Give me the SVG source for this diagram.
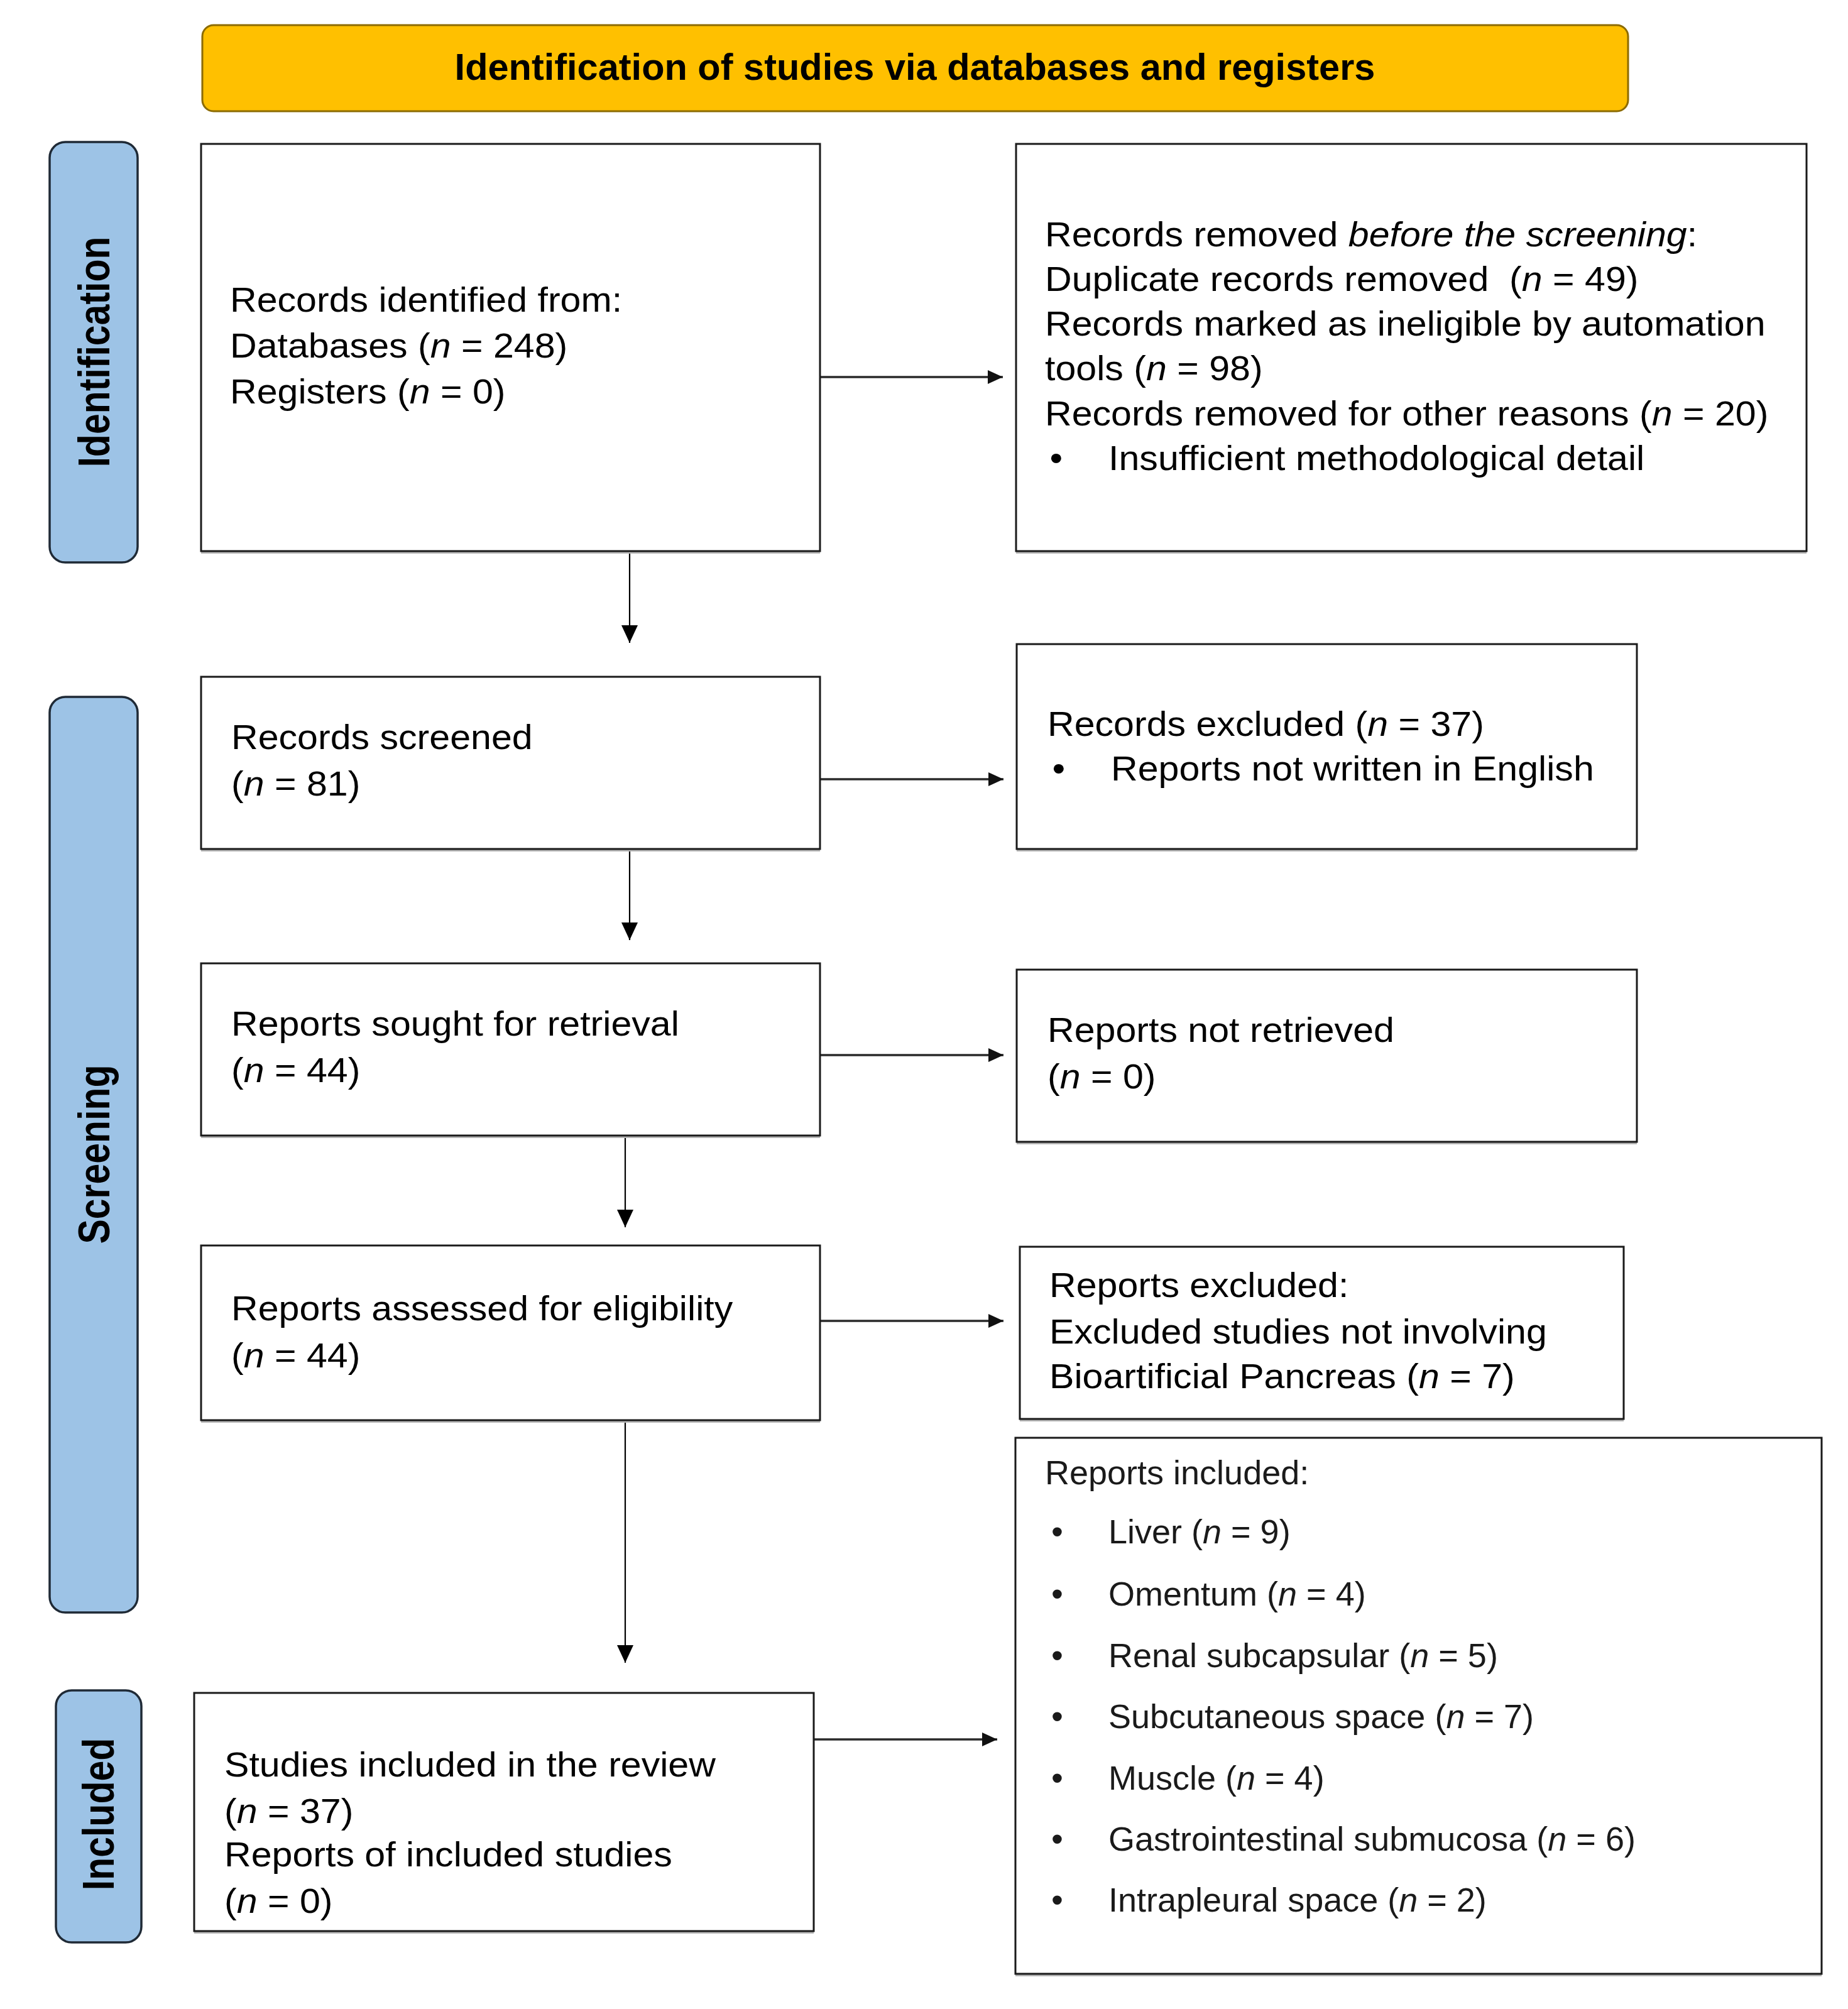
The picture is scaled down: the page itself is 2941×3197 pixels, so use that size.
<svg xmlns="http://www.w3.org/2000/svg" width="2941" height="3197" viewBox="0 0 2941 3197">
<style>
.t{font-family:"Liberation Sans",Arial,sans-serif;font-size:55px;fill:#000}
.l{font-family:"Liberation Sans",Arial,sans-serif;font-size:54px;fill:#1a1a1a}
.lab{font-family:"Liberation Sans",Arial,sans-serif;font-size:59px;font-weight:bold;fill:#000}
.hd{font-family:"Liberation Sans",Arial,sans-serif;font-size:59.5px;font-weight:bold;fill:#000}
.box{fill:#fff;stroke:#1a1a1a;stroke-width:3}
.sh{fill:#b5b5b5}
.bar{fill:#9dc3e6;stroke:#1f2a36;stroke-width:3.5}
.i{font-style:italic}
.v{stroke:#000;stroke-width:2.2;fill:none}
.h{stroke:#2a2a2a;stroke-width:3.5;fill:none}
</style>
<defs>
<marker id="ah" markerUnits="userSpaceOnUse" markerWidth="28" markerHeight="26" viewBox="0 0 28 26" refX="28" refY="13" orient="auto">
<path d="M0,0 L28,13 L0,26 z" fill="#000"/>
</marker>
<marker id="ahs" markerUnits="userSpaceOnUse" markerWidth="24" markerHeight="22" viewBox="0 0 24 22" refX="24" refY="11" orient="auto">
<path d="M0,0 L24,11 L0,22 z" fill="#111"/>
</marker>
</defs>
<rect width="2941" height="3197" fill="#fff"/>

<g id="header">
<rect x="322" y="40" width="2269" height="137" rx="18" fill="#ffc000" stroke="#8c6b00" stroke-width="3"/>
<text class="hd" x="1456" y="127" text-anchor="middle">Identification of studies via databases and registers</text>
</g>

<g id="label-identification">
<rect class="bar" x="79" y="226" width="140" height="669" rx="25"/>
<text class="lab" text-anchor="middle" transform="translate(149,560) rotate(-90) scale(1,1.2)" y="21">Identification</text>
</g>
<g id="label-screening">
<rect class="bar" x="79" y="1109" width="140" height="1457" rx="25"/>
<text class="lab" text-anchor="middle" transform="translate(149,1837) rotate(-90) scale(1,1.2)" y="21">Screening</text>
</g>
<g id="label-included">
<rect class="bar" x="89" y="2690" width="136" height="401" rx="25"/>
<text class="lab" text-anchor="middle" transform="translate(156,2887) rotate(-90) scale(1,1.2)" y="21">Included</text>
</g>

<g id="connectors">
<line class="v" x1="1002" y1="877" x2="1002" y2="1023" marker-end="url(#ah)"/>
<line class="v" x1="1002" y1="1351" x2="1002" y2="1496" marker-end="url(#ah)"/>
<line class="v" x1="995" y1="1807" x2="995" y2="1953" marker-end="url(#ah)"/>
<line class="v" x1="995" y1="2260" x2="995" y2="2646" marker-end="url(#ah)"/>
<line class="h" x1="1305" y1="600" x2="1596" y2="600" marker-end="url(#ahs)"/>
<line class="h" x1="1305" y1="1240" x2="1597" y2="1240" marker-end="url(#ahs)"/>
<line class="h" x1="1305" y1="1679" x2="1597" y2="1679" marker-end="url(#ahs)"/>
<line class="h" x1="1305" y1="2102" x2="1597" y2="2102" marker-end="url(#ahs)"/>
<line class="h" x1="1295" y1="2768" x2="1587" y2="2768" marker-end="url(#ahs)"/>
</g>

<g id="node-identified">
<rect class="sh" x="320" y="233" width="985" height="648"/>
<rect class="box" x="320" y="229" width="985" height="648"/>
<g transform="translate(366,0) scale(1.075,1)"><text class="t">
<tspan x="0" y="496">Records identified from:</tspan>
<tspan x="0" y="569">Databases (<tspan class="i">n</tspan> = 248)</tspan>
<tspan x="0" y="642">Registers (<tspan class="i">n</tspan> = 0)</tspan>
</text></g>
</g>

<g id="node-removed">
<rect class="sh" x="1617" y="233" width="1258" height="648"/>
<rect class="box" x="1617" y="229" width="1258" height="648"/>
<g transform="translate(1663,0) scale(1.075,1)"><text class="t">
<tspan x="0" y="392">Records removed <tspan class="i">before the screening</tspan>:</tspan>
<tspan x="0" y="463">Duplicate records removed&#160; (<tspan class="i">n</tspan> = 49)</tspan>
<tspan x="0" y="534">Records marked as ineligible by automation</tspan>
<tspan x="0" y="605">tools (<tspan class="i">n</tspan> = 98)</tspan>
<tspan x="0" y="677">Records removed for other reasons (<tspan class="i">n</tspan> = 20)</tspan>
<tspan x="7" y="748">•</tspan><tspan x="94" y="748">Insufficient methodological detail</tspan>
</text></g>
</g>

<g id="node-screened">
<rect class="sh" x="320" y="1081" width="985" height="274"/>
<rect class="box" x="320" y="1077" width="985" height="274"/>
<g transform="translate(368,0) scale(1.075,1)"><text class="t">
<tspan x="0" y="1192">Records screened</tspan>
<tspan x="0" y="1266">(<tspan class="i">n</tspan> = 81)</tspan>
</text></g>
</g>

<g id="node-excluded">
<rect class="sh" x="1618" y="1029" width="987" height="326"/>
<rect class="box" x="1618" y="1025" width="987" height="326"/>
<g transform="translate(1667,0) scale(1.075,1)"><text class="t">
<tspan x="0" y="1171">Records excluded (<tspan class="i">n</tspan> = 37)</tspan>
<tspan x="7" y="1242">•</tspan><tspan x="94" y="1242">Reports not written in English</tspan>
</text></g>
</g>

<g id="node-sought">
<rect class="sh" x="320" y="1537" width="985" height="274"/>
<rect class="box" x="320" y="1533" width="985" height="274"/>
<g transform="translate(368,0) scale(1.075,1)"><text class="t">
<tspan x="0" y="1648">Reports sought for retrieval</tspan>
<tspan x="0" y="1722">(<tspan class="i">n</tspan> = 44)</tspan>
</text></g>
</g>

<g id="node-not-retrieved">
<rect class="sh" x="1618" y="1547" width="987" height="274"/>
<rect class="box" x="1618" y="1543" width="987" height="274"/>
<g transform="translate(1667,0) scale(1.075,1)"><text class="t">
<tspan x="0" y="1658">Reports not retrieved</tspan>
<tspan x="0" y="1732">(<tspan class="i">n</tspan> = 0)</tspan>
</text></g>
</g>

<g id="node-assessed">
<rect class="sh" x="320" y="1986" width="985" height="278"/>
<rect class="box" x="320" y="1982" width="985" height="278"/>
<g transform="translate(368,0) scale(1.075,1)"><text class="t">
<tspan x="0" y="2101">Reports assessed for eligibility</tspan>
<tspan x="0" y="2176">(<tspan class="i">n</tspan> = 44)</tspan>
</text></g>
</g>

<g id="node-reports-excluded">
<rect class="sh" x="1623" y="1988" width="961" height="274"/>
<rect class="box" x="1623" y="1984" width="961" height="274"/>
<g transform="translate(1670,0) scale(1.075,1)"><text class="t">
<tspan x="0" y="2064">Reports excluded:</tspan>
<tspan x="0" y="2138">Excluded studies not involving</tspan>
<tspan x="0" y="2209">Bioartificial Pancreas (<tspan class="i">n</tspan> = 7)</tspan>
</text></g>
</g>

<g id="node-included">
<rect class="sh" x="309" y="2698" width="986" height="379"/>
<rect class="box" x="309" y="2694" width="986" height="379"/>
<g transform="translate(357,0) scale(1.075,1)"><text class="t">
<tspan x="0" y="2827">Studies included in the review</tspan>
<tspan x="0" y="2901">(<tspan class="i">n</tspan> = 37)</tspan>
<tspan x="0" y="2970">Reports of included studies</tspan>
<tspan x="0" y="3044">(<tspan class="i">n</tspan> = 0)</tspan>
</text></g>
</g>

<g id="node-reports-included">
<rect class="sh" x="1616" y="2292" width="1283" height="853"/>
<rect class="box" x="1616" y="2288" width="1283" height="853"/>
<text class="l">
<tspan x="1663" y="2362">Reports included:</tspan>
<tspan x="1673" y="2456">•</tspan><tspan x="1764" y="2456">Liver (<tspan class="i">n</tspan> = 9)</tspan>
<tspan x="1673" y="2555">•</tspan><tspan x="1764" y="2555">Omentum (<tspan class="i">n</tspan> = 4)</tspan>
<tspan x="1673" y="2653">•</tspan><tspan x="1764" y="2653">Renal subcapsular (<tspan class="i">n</tspan> = 5)</tspan>
<tspan x="1673" y="2750">•</tspan><tspan x="1764" y="2750">Subcutaneous space (<tspan class="i">n</tspan> = 7)</tspan>
<tspan x="1673" y="2848">•</tspan><tspan x="1764" y="2848">Muscle (<tspan class="i">n</tspan> = 4)</tspan>
<tspan x="1673" y="2945">•</tspan><tspan x="1764" y="2945">Gastrointestinal submucosa (<tspan class="i">n</tspan> = 6)</tspan>
<tspan x="1673" y="3042">•</tspan><tspan x="1764" y="3042">Intrapleural space (<tspan class="i">n</tspan> = 2)</tspan>
</text>
</g>
</svg>
